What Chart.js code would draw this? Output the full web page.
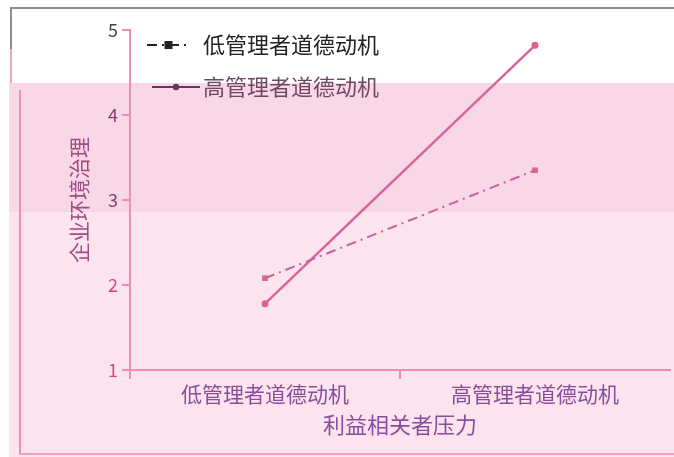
<!DOCTYPE html>
<html>
<head>
<meta charset="utf-8">
<script src="https://cdn.jsdelivr.net/npm/chart.js@4/dist/chart.umd.min.js"></script>
<style>
  body { margin: 0; background: #fff; }
  #wrap { position: relative; width: 674px; height: 457px; overflow: hidden; }
  .bg { position: absolute; }
  canvas { position: absolute; left: 0; top: 0; }
</style>
</head>
<body>
<div id="wrap">
  <div class="bg" style="left:9px;top:83px;right:0;bottom:0;background:#fbe4ee"></div>
  <div class="bg" style="left:9px;top:83px;right:0;height:129px;background:#f8d8e6"></div>
  <div class="bg" style="left:10px;top:7px;right:0;height:2px;background:#8c8c8c"></div>
  <div class="bg" style="left:10px;top:7px;width:2px;height:42px;background:#8c8c8c"></div>
  <div class="bg" style="left:10px;top:49px;width:2px;height:34px;background:#f2a6c6"></div>
  <div class="bg" style="left:19px;top:90px;width:2px;height:365px;background:#f08cb8"></div>
  <div class="bg" style="left:19px;top:453px;right:0;height:2px;background:#f4a0c4"></div>
  <canvas id="chart" width="674" height="457"></canvas>
</div>
<script>
const categories = ["低管理者道德动机", "高管理者道德动机"];
const seriesNames = ["低管理者道德动机", "高管理者道德动机"];
const lowMotive = [2.08, 3.35];
const highMotive = [1.78, 4.82];
const yTicks = [1, 2, 3, 4, 5];
const xTitle = "利益相关者压力";
const yTitle = "企业环境治理";

const font = "'Noto Sans CJK SC', 'Noto Sans', sans-serif";

// legend drawn inside the plot, top-left
const legendItems = [
  { y: 45, x0: 147, x1: 190, dash: [10, 5, 2, 5], color: "#222", text: "#222", square: true },
  { y: 87, x0: 152, x1: 200, dash: [], color: "#6a3466", text: "#6e4a62", square: false }
];
const innerLegend = {
  id: "innerLegend",
  afterDraw(chart) {
    const ctx = chart.ctx;
    ctx.save();
    chart.data.datasets.forEach((ds, i) => {
      const it = legendItems[i];
      ctx.strokeStyle = it.color;
      ctx.fillStyle = it.color;
      ctx.lineWidth = 2;
      ctx.setLineDash(it.dash);
      ctx.beginPath();
      ctx.moveTo(it.x0, it.y);
      ctx.lineTo(it.x1, it.y);
      ctx.stroke();
      ctx.setLineDash([]);
      const mx = (it.x0 + it.x1) / 2;
      if (it.square) ctx.fillRect(mx - 4, it.y - 4, 8, 8);
      else { ctx.beginPath(); ctx.arc(mx, it.y, 3.2, 0, Math.PI * 2); ctx.fill(); }
      ctx.fillStyle = it.text;
      ctx.font = "22px " + font;
      ctx.textBaseline = "middle";
      ctx.fillText(ds.label, 203, it.y);
    });
    ctx.restore();
  }
};

new Chart(document.getElementById("chart"), {
  type: "line",
  data: {
    labels: categories,
    datasets: [
      {
        label: seriesNames[0],
        data: lowMotive,
        borderColor: "#c8609a",
        backgroundColor: "#d8668f",
        borderWidth: 2,
        borderDash: [10, 5, 2, 5],
        pointStyle: "rect",
        pointRadius: 4,
        pointBorderWidth: 0
      },
      {
        label: seriesNames[1],
        data: highMotive,
        borderColor: "#d8649c",
        backgroundColor: "#e0608f",
        borderWidth: 2.5,
        pointStyle: "circle",
        pointRadius: 3.5,
        pointBorderWidth: 0
      }
    ]
  },
  options: {
    responsive: false,
    animation: false,
    devicePixelRatio: 1,
    layout: { padding: { left: 58, top: 30, right: 0, bottom: 0 } },
    plugins: { legend: { display: false }, tooltip: { enabled: false } },
    scales: {
      x: {
        offset: true,
        afterFit(s) { s.height = 87; },
        border: { color: "#f08cb8", width: 2 },
        grid: {
          drawOnChartArea: false, tickLength: 9, lineWidth: 2, offset: true,
          // no tick mark at the right end of the axis
          color: c => c.type === "tick" ? "#f08cb8" : "rgba(0,0,0,0)"
        },
        ticks: { color: "#8a4c9c", font: { family: font, size: 21 }, padding: 2 },
        title: { display: true, text: xTitle, color: "#8a4c9c", font: { family: font, size: 22 }, padding: { top: 0, bottom: 19 } }
      },
      y: {
        min: 1,
        max: 5,
        afterFit(s) { s.width = 72; },
        afterBuildTicks(s) { s.ticks = yTicks.map(v => ({ value: v })); },
        border: { color: "#f08cb8", width: 2 },
        grid: { drawOnChartArea: false, tickLength: 8, color: "#f08cb8", lineWidth: 2 },
        ticks: {
          color: c => c.tick.value >= 5 ? "#444" : c.tick.value >= 3 ? "#8a3a6a" : "#e0407a",
          font: { family: font, size: 18 },
          padding: 4
        },
        title: { display: true, text: yTitle, color: "#a04a86", font: { family: font, size: 21 }, padding: { top: 8, bottom: 0 } }
      }
    }
  },
  plugins: [innerLegend]
});
</script>
</body>
</html>
